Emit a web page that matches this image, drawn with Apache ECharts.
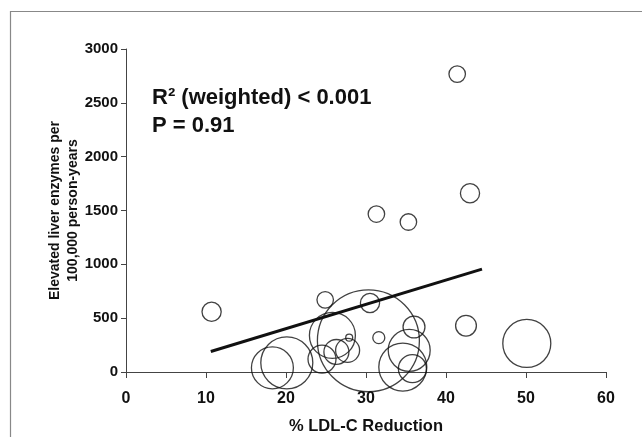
<!DOCTYPE html>
<html>
<head>
<meta charset="utf-8">
<script src="https://cdn.jsdelivr.net/npm/echarts@6/dist/echarts.min.js"></script>
<style>
html,body{margin:0;padding:0;background:#fff;}
#chart{width:642px;height:437px;}
</style>
</head>
<body>
<div id="chart"></div>
<script>
// one bubble per trial
const ldlReduction = [10.7, 18.3, 20.1, 24.5, 24.9, 25.8, 26.3, 27.7, 27.9, 30.3, 30.5, 31.6, 31.3, 35.3, 36.0, 35.4, 34.6, 35.8, 41.4, 43.0, 42.5, 50.1];
const liverEvents = [560, 39, 85, 120, 670, 340, 186, 201, 319, 290, 641, 319, 1467, 1393, 418, 201, 46, 31, 2767, 1660, 430, 265];
// trial weight (person-years, thousands)
const trialWeight = [23, 110, 169, 49, 17, 132, 39, 36, 3, 650, 23, 9, 17, 17, 30, 110, 144, 49, 17, 23, 27, 144];

// weighted regression line end points
const fitX = [10.6, 44.5];
const fitY = [190, 955];

const xTicks = [0, 10, 20, 30, 40, 50, 60];
const yTicks = [0, 500, 1000, 1500, 2000, 2500, 3000];

const bubbles = ldlReduction.map((x, i) => [x, liverEvents[i], trialWeight[i]]);
const fit = fitX.map((x, i) => [x, fitY[i]]);

const font = 'Liberation Sans, Arial, sans-serif';
const chart = echarts.init(document.getElementById('chart'));
chart.setOption({
    animation: false,
    backgroundColor: '#fff',
    grid: {left: 126, right: 36, top: 49, bottom: 65, outerBoundsMode: 'none'},
    xAxis: {
        type: 'value', min: xTicks[0], max: xTicks[xTicks.length - 1], interval: 10,
        name: '% LDL-C Reduction', nameLocation: 'middle', nameGap: 46, nameMoveOverlap: false,
        nameTextStyle: {fontFamily: font, fontWeight: 'bold', fontSize: 16.5, color: '#111'},
        axisLine: {lineStyle: {color: '#444', width: 1}},
        axisTick: {show: true, inside: false, length: 6, lineStyle: {color: '#444'}},
        axisLabel: {fontFamily: font, fontWeight: 'bold', fontSize: 16, color: '#111', margin: 19},
        splitLine: {show: false}
    },
    yAxis: {
        type: 'value', min: yTicks[0], max: yTicks[yTicks.length - 1], interval: 500,
        name: 'Elevated liver enzymes per\n100,000 person-years', nameLocation: 'middle', nameGap: 44,
        nameMoveOverlap: false,
        nameTextStyle: {fontFamily: font, fontWeight: 'bold', fontSize: 14, color: '#111', lineHeight: 18},
        axisLine: {show: true, lineStyle: {color: '#444', width: 1}},
        axisTick: {show: true, inside: false, length: 5, lineStyle: {color: '#444'}},
        axisLabel: {fontFamily: font, fontWeight: 'bold', fontSize: 15, color: '#111', margin: 8,
                    formatter: v => String(v)},
        splitLine: {show: false}
    },
    graphic: [
        {type: 'rect', left: 8, top: 9, shape: {width: 700, height: 500},
         style: {fill: 'none', stroke: '#888', lineWidth: 1.2}, silent: true},
        {type: 'text', left: 152, top: 87,
         style: {text: 'R² (weighted) < 0.001', font: 'bold 22px ' + font, fill: '#111'}},
        {type: 'text', left: 152, top: 115,
         style: {text: 'P = 0.91', font: 'bold 22px ' + font, fill: '#111'}}
    ],
    series: [
        {
            type: 'scatter',
            data: bubbles,
            symbol: 'circle',
            symbolSize: v => Math.sqrt(v[2]) * 4,
            itemStyle: {color: 'rgba(0,0,0,0)', borderColor: '#111', borderWidth: 1.3}
        },
        {
            type: 'line',
            data: fit,
            symbol: 'none',
            lineStyle: {color: '#111', width: 3},
            z: 3
        }
    ]
});
</script>
</body>
</html>
